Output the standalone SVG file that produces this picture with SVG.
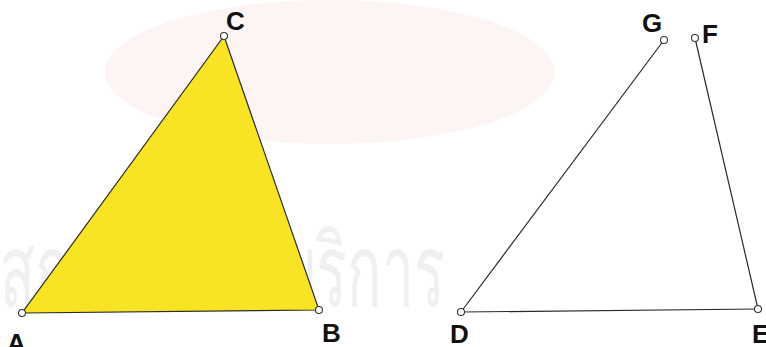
<svg xmlns="http://www.w3.org/2000/svg" width="766" height="347" viewBox="0 0 766 347">
<style>
.edge{stroke:#2a2a2a;stroke-width:1.2;fill:none}
.pt{fill:#ffffff;stroke:#333333;stroke-width:1.1}
.lbl{font-family:"Liberation Sans",Arial,sans-serif;font-weight:bold;font-size:26px;fill:#111111}
.wm{font-family:"Noto Sans","DejaVu Sans",sans-serif;font-size:100px;fill:#f0f0f0}
</style>
<rect width="766" height="347" fill="#ffffff"/>
<g id="watermark">
<ellipse cx="330" cy="72" rx="225" ry="72" fill="#fdf4f4"/>
<text class="wm" x="0" y="306" textLength="445" lengthAdjust="spacingAndGlyphs">สถาบันวิทยบริการ</text>
</g>
<g id="triangleABC">
<polygon points="22,313 319,310 224,36" fill="#f9e325" stroke="#2a2a2a" stroke-width="1.2"/>
</g>
<g id="connectors">
<line class="edge" x1="461" y1="312" x2="758" y2="309"/>
<line class="edge" x1="461" y1="312" x2="664" y2="40"/>
<line class="edge" x1="758" y1="309" x2="695" y2="38"/>
</g>
<g id="A"><circle class="pt" cx="22" cy="313" r="3.5"/><text class="lbl" x="7" y="352">A</text></g>
<g id="B"><circle class="pt" cx="319" cy="310" r="3.5"/><text class="lbl" x="322" y="342">B</text></g>
<g id="C"><circle class="pt" cx="224" cy="36" r="3.5"/><text class="lbl" x="226" y="30">C</text></g>
<g id="D"><circle class="pt" cx="461" cy="312" r="3.5"/><text class="lbl" x="450" y="343">D</text></g>
<g id="E"><circle class="pt" cx="758" cy="309" r="3.5"/><text class="lbl" x="752" y="343">E</text></g>
<g id="F"><circle class="pt" cx="695" cy="38" r="3.5"/><text class="lbl" x="702" y="43">F</text></g>
<g id="G"><circle class="pt" cx="664" cy="40" r="3.5"/><text class="lbl" x="642" y="32">G</text></g>
</svg>
